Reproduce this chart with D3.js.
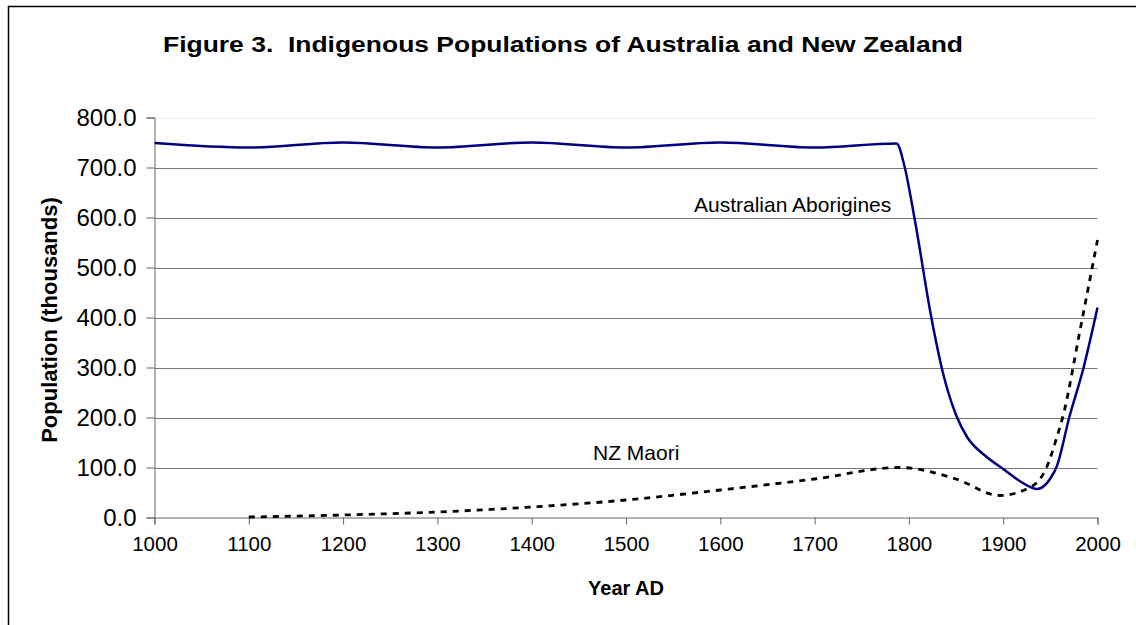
<!DOCTYPE html>
<html>
<head>
<meta charset="utf-8">
<script src="https://cdn.jsdelivr.net/npm/d3@7"></script>
<style>
  html, body { margin: 0; padding: 0; background: #fff; }
  svg { display: block; font-family: "Liberation Sans", Arial, sans-serif; }
</style>
</head>
<body>
<svg id="chart" width="1136" height="625"></svg>
<script>
// ---- data ----
const title = "Figure 3.  Indigenous Populations of Australia and New Zealand";
const xTickValues = [1000, 1100, 1200, 1300, 1400, 1500, 1600, 1700, 1800, 1900, 2000];
const yTickValues = [0, 100, 200, 300, 400, 500, 600, 700, 800];

const aborigineYears  = [1000, 1100, 1200, 1300, 1400, 1500, 1600, 1700, 1787, 1795, 1806, 1824, 1836, 1850, 1862, 1880, 1900, 1920, 1936, 1950, 1957, 1970, 1985, 2000];
const aborigineValues = [ 749,  740,  750,  740,  750,  740,  750,  740,  748,  705,  598,  398,  290,  205,  160,  125,   97,   70,   57,   78,  103,  200,  298,  420];

const maoriYears  = [1100, 1200, 1300, 1400, 1500, 1600, 1700, 1790, 1850, 1896, 1930, 1946, 1956, 1965, 1980, 2000];
const maoriValues = [   1,    5,   11,   21,   35,   55,   77,  100,   77,   44,   62,  100,  155,  215,  360,  555];

const seriesLabels = ["Australian Aborigines", "NZ Maori"];

// ---- layout ----
const svg = d3.select("#chart");
const mLeft = 154.5, mRight = 1097.5, mTop = 117.5, mBottom = 517.5;

const x = d3.scaleLinear().domain([1000, 2000]).range([mLeft, mRight]);
const y = d3.scaleLinear().domain([0, 800]).range([mBottom, mTop]);

// outer chart border (extends beyond the visible canvas on right/bottom)
svg.append("rect")
  .attr("x", 8.5).attr("y", 6.5)
  .attr("width", 1300).attr("height", 800)
  .attr("fill", "none").attr("stroke", "#000").attr("stroke-width", 1.5);

// title
svg.append("text")
  .attr("x", 563).attr("y", 52)
  .attr("text-anchor", "middle")
  .attr("font-weight", "bold")
  .attr("font-size", 22)
  .attr("textLength", 800)
  .attr("lengthAdjust", "spacingAndGlyphs")
  .style("white-space", "pre")
  .text(title);

// gridlines
svg.append("g")
  .selectAll("line")
  .data(yTickValues.filter(d => d > 0))
  .join("line")
  .attr("x1", mLeft).attr("x2", mRight)
  .attr("y1", d => Math.round(y(d)) + 0.5).attr("y2", d => Math.round(y(d)) + 0.5)
  .attr("stroke", d => d === 800 ? "#ececec" : "#7a7a7a")
  .attr("stroke-width", 1);

// y axis
const yAxis = svg.append("g")
  .attr("transform", `translate(${mLeft},0)`)
  .call(d3.axisLeft(y).tickValues(yTickValues).tickSize(8).tickPadding(10).tickFormat(d3.format(".1f")));
yAxis.select(".domain").attr("stroke", "#666");
yAxis.selectAll(".tick line").attr("stroke", "#666");
yAxis.selectAll("text").attr("font-size", 24).attr("fill", "#000")
  .attr("font-family", "Liberation Sans, Arial, sans-serif");

// x axis
const xAxis = svg.append("g")
  .attr("transform", `translate(0,${mBottom})`)
  .call(d3.axisBottom(x).tickValues(xTickValues).tickSize(7).tickPadding(12).tickFormat(d3.format("d")));
xAxis.select(".domain").attr("stroke", "#666");
xAxis.selectAll(".tick line").attr("stroke", "#666");
xAxis.selectAll("text").attr("font-size", 20.5).attr("fill", "#000")
  .attr("font-family", "Liberation Sans, Arial, sans-serif");

// axis titles
svg.append("text")
  .attr("transform", `translate(57,${320}) rotate(-90)`)
  .attr("text-anchor", "middle")
  .attr("font-weight", "bold")
  .attr("font-size", 22)
  .text("Population (thousands)");

svg.append("text")
  .attr("x", 626).attr("y", 595)
  .attr("text-anchor", "middle")
  .attr("font-weight", "bold")
  .attr("font-size", 20)
  .text("Year AD");

// lines
const line = d3.line()
  .x(d => x(d[0]))
  .y(d => y(d[1]))
  .curve(d3.curveMonotoneX);

const aborigineData = aborigineYears.map((yr, i) => [yr, aborigineValues[i]]);
const maoriData = maoriYears.map((yr, i) => [yr, maoriValues[i]]);

svg.append("path")
  .datum(maoriData)
  .attr("d", line)
  .attr("fill", "none")
  .attr("stroke", "#000")
  .attr("stroke-width", 2.8)
  .attr("stroke-dasharray", "6,6");

svg.append("path")
  .datum(aborigineData)
  .attr("d", line)
  .attr("fill", "none")
  .attr("stroke", "#000080")
  .attr("stroke-width", 2.5);

// series labels
svg.append("text")
  .attr("x", 694).attr("y", 212)
  .attr("font-size", 21)
  .text(seriesLabels[0]);

svg.append("text")
  .attr("x", 593).attr("y", 460)
  .attr("font-size", 21)
  .text(seriesLabels[1]);
</script>
</body>
</html>
